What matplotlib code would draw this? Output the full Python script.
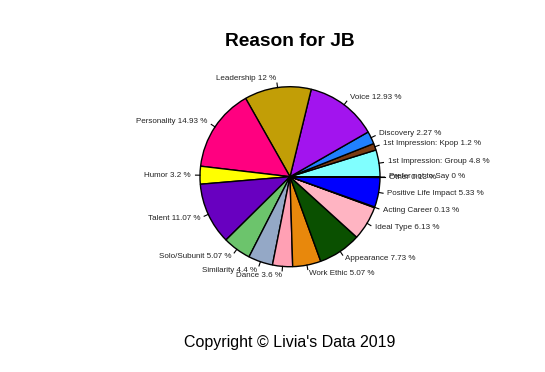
import numpy as np
import matplotlib
matplotlib.use("Agg")
import matplotlib.pyplot as plt

plt.rcParams['font.family'] = ['Liberation Sans', 'DejaVu Sans']

# slices, counterclockwise from 3 o'clock
reasons = ["1st Impression: Group", "1st Impression: Kpop", "Discovery", "Voice",
           "Leadership", "Personality", "Humor", "Talent", "Solo/Subunit",
           "Similarity", "Dance", "Work Ethic", "Appearance", "Ideal Type",
           "Acting Career", "Positive Life Impact", "Other", "Prefer not to Say"]
percents = [4.8, 1.2, 2.27, 12.93, 12, 14.93, 3.2, 11.07, 5.07,
            4.4, 3.6, 5.07, 7.73, 6.13, 0.13, 5.33, 0.13, 0]
colors = ["#80FFFF", "#7A3A12", "#2080FF", "#A214EE", "#C29E06", "#FF0080",
          "#FFFF00", "#6800C0", "#6CC46C", "#94A8C6", "#FFA0B4", "#E8880C",
          "#0A5000", "#FFB4C2", "#FF8040", "#0000FF", "#FFFFFF", "#FFFFFF"]

labels = ["%s %s %%" % (r, ("%g" % p)) for r, p in zip(reasons, percents)]

fig = plt.figure(figsize=(5.45, 3.72), dpi=100)
ax = fig.add_axes([0, 0, 1, 1])

cx, cy, R = 290, 372 - 176.7, 90
wedges, _ = ax.pie(percents, colors=colors, startangle=0,
                   counterclock=True, radius=R, center=(cx, cy),
                   wedgeprops=dict(edgecolor="black", linewidth=1.0))
ax.set_xlim(0, 545)
ax.set_ylim(0, 372)
ax.set_aspect("equal")
ax.axis("off")

# tick marks from the rim and labels, R style
for w, lab in zip(wedges, labels):
    a = np.deg2rad((w.theta1 + w.theta2) / 2)
    c, s = np.cos(a), np.sin(a)
    ax.plot([cx + R * c, cx + 1.05 * R * c], [cy + R * s, cy + 1.05 * R * s],
            color="black", linewidth=0.8)
    ax.text(cx + 1.1 * R * c, cy + 1.1 * R * s, lab, fontsize=5.75,
            color="#222222", ha="left" if c >= 0 else "right", va="center")

fig.text(290 / 545, 1 - 42 / 372, "Reason for JB", ha="center", va="center",
         fontsize=13.8, fontweight="bold")
fig.text(290 / 545, 1 - 342 / 372, "Copyright \u00a9 Livia's Data 2019",
         ha="center", va="center", fontsize=11.5)

plt.savefig("out.png", dpi=100)
